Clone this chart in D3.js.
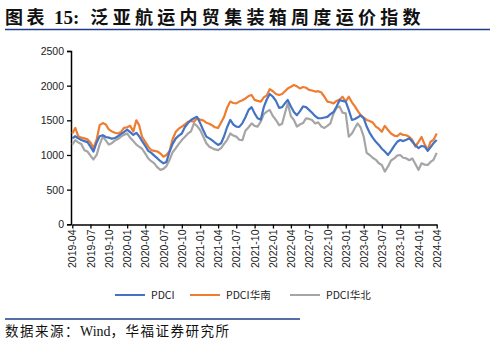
<!DOCTYPE html>
<html><head><meta charset="utf-8">
<script src="https://cdn.jsdelivr.net/npm/d3@7/dist/d3.min.js"></script>
<style>
html,body{margin:0;padding:0;background:#fff;}
svg{display:block;}
</style></head>
<body>
<script>
// ---- data (semi-monthly readings, 2019-04-01 .. 2024-04-01) ----
const seriesNames = ["PDCI", "PDCI华南", "PDCI华北"];
const seriesColors = ["#4472C4", "#ED7D31", "#A5A5A5"];
const pdci = [1240,1270,1240,1215,1200,1185,1120,1050,1180,1270,1285,1260,1250,1235,1245,1270,1300,1330,1365,1330,
1290,1320,1270,1200,1130,1060,1030,990,950,910,880,900,1050,1160,1240,1280,1310,1400,1460,1505,
1530,1550,1460,1360,1265,1240,1215,1180,1145,1170,1270,1400,1505,1440,1410,1405,1460,1545,1650,1690,
1600,1530,1510,1690,1800,1880,1840,1780,1680,1690,1740,1795,1700,1620,1575,1630,1700,1690,1650,1610,
1560,1530,1530,1540,1550,1590,1620,1700,1790,1780,1770,1650,1505,1520,1540,1570,1530,1410,1320,1250,
1190,1145,1090,1050,1000,1060,1130,1190,1215,1200,1220,1240,1190,1140,1100,1130,1120,1060,1110,1170,1215];
const pdciSouth = [1310,1390,1270,1250,1240,1225,1180,1100,1220,1430,1460,1440,1370,1340,1320,1310,1330,1390,1400,1420,
1340,1500,1430,1260,1190,1120,1070,1060,1050,1020,975,1000,1060,1230,1335,1380,1410,1440,1480,1490,
1480,1530,1510,1500,1465,1450,1430,1400,1390,1470,1550,1680,1770,1750,1745,1770,1790,1815,1850,1865,
1795,1780,1770,1830,1860,1950,1920,1880,1865,1880,1915,1960,1985,2010,1990,1960,1980,1970,1940,1930,
1915,1920,1900,1840,1770,1760,1745,1780,1800,1840,1770,1840,1760,1700,1640,1580,1540,1505,1490,1470,
1410,1380,1335,1420,1360,1310,1280,1270,1310,1290,1285,1260,1215,1120,1190,1260,1150,1070,1190,1215,1310];
const pdciNorth = [1150,1215,1180,1160,1070,1050,990,935,1000,1150,1265,1210,1150,1170,1210,1230,1265,1290,1310,1250,
1200,1150,1120,1090,1020,950,910,880,820,785,800,840,930,1040,1100,1160,1215,1260,1310,1340,
1455,1420,1360,1270,1170,1120,1100,1080,1070,1100,1160,1215,1310,1280,1265,1220,1215,1350,1400,1455,
1420,1410,1480,1590,1625,1650,1560,1505,1430,1450,1590,1745,1560,1505,1410,1440,1460,1530,1520,1505,
1455,1470,1410,1390,1420,1455,1600,1680,1700,1610,1600,1265,1310,1390,1455,1400,1265,1030,1000,960,
930,880,855,760,835,920,950,990,1000,960,950,925,950,870,785,880,860,855,900,930,1030];
const yTicks = [0,500,1000,1500,2000,2500];
const xTickLabels = ["2019-04","2019-07","2019-10","2020-01","2020-04","2020-07","2020-10","2021-01","2021-04",
"2021-07","2021-10","2022-01","2022-04","2022-07","2022-10","2023-01","2023-04","2023-07","2023-10","2024-01","2024-04"];

// dates of the semi-monthly samples (1st and 16th of each month)
const dates = d3.range(pdci.length).map(k => new Date(2019, 3 + Math.floor(k / 2), k % 2 ? 16 : 1));
const parse = d3.timeParse("%Y-%m");
const tickDates = xTickLabels.map(parse);

const W = 495, H = 343;
const svg = d3.select("body").append("svg").attr("width", W).attr("height", H);

// title
const title = svg.append("text").attr("x", 5).attr("y", 24)
  .attr("font-size", 18).attr("font-weight", "bold").attr("fill", "#111")
  .attr("font-family", "'Noto Sans CJK SC', sans-serif");
title.append("tspan").attr("letter-spacing", 3.5).text("图表");
title.append("tspan").attr("dx", 6).attr("font-family", "'Liberation Serif', serif").attr("font-size", 19).text("15:");
title.append("tspan").attr("dx", 11).attr("letter-spacing", 4.3).text("泛亚航运内贸集装箱周度运价指数");
svg.append("line").attr("x1", 5).attr("x2", 490).attr("y1", 29.5).attr("y2", 29.5)
  .attr("stroke", "#1F3C88").attr("stroke-width", 1.5);

// scales
const x = d3.scaleTime().domain([tickDates[0], tickDates[tickDates.length - 1]]).range([72.3, 436.7]);
const y = d3.scaleLinear().domain([0, 2500]).range([224.3, 51]);

// axes
const yAxis = svg.append("g").attr("transform", "translate(71,0)")
  .call(d3.axisLeft(y).tickValues(yTicks).tickSize(4).tickPadding(3).tickFormat(d3.format("d")));
yAxis.selectAll("text").attr("font-family", "'Liberation Sans', Arial, sans-serif").attr("font-size", 10.5).attr("fill", "#222");
yAxis.select(".domain").attr("stroke", "#000").attr("stroke-width", 1.5);
yAxis.selectAll(".tick line").attr("stroke", "#000").attr("stroke-width", 1.3);

const xAxis = svg.append("g").attr("transform", "translate(0,224.5)")
  .call(d3.axisBottom(x).tickValues(tickDates).tickSize(4).tickSizeOuter(0)
    .tickFormat((d, i) => xTickLabels[i]));
xAxis.select(".domain").attr("stroke", "#000").attr("stroke-width", 1.5);
xAxis.selectAll(".tick line").attr("stroke", "#000").attr("stroke-width", 1.3);
xAxis.selectAll("text")
  .attr("font-family", "'Liberation Sans', Arial, sans-serif").attr("font-size", 10.5).attr("fill", "#222")
  .attr("transform", "rotate(-90)").attr("text-anchor", "end")
  .attr("x", -5).attr("y", 0).attr("dy", "0.35em");

// lines
const allSeries = [pdci, pdciSouth, pdciNorth];
const line = d3.line().x((d, i) => x(dates[i])).y(d => y(d));
[2, 1, 0].forEach(si => {
  svg.append("path").datum(allSeries[si]).attr("d", line)
    .attr("fill", "none").attr("stroke", seriesColors[si]).attr("stroke-width", 2.2)
    .attr("stroke-linejoin", "round");
});

// legend
const legendX = [115, 190, 290];
seriesNames.forEach((n, i) => {
  const g = svg.append("g").attr("transform", `translate(${legendX[i]},295)`);
  g.append("line").attr("x1", 0).attr("x2", 30).attr("y1", 0).attr("y2", 0)
    .attr("stroke", seriesColors[i]).attr("stroke-width", 2);
  g.append("text").attr("x", 36).attr("y", 0).attr("dy", "0.35em")
    .attr("font-family", "'Noto Sans CJK SC', sans-serif").attr("font-size", 10.5).attr("fill", "#222")
    .text(n);
});

// footer
svg.append("line").attr("x1", 5).attr("x2", 300).attr("y1", 319).attr("y2", 319)
  .attr("stroke", "#1F3C88").attr("stroke-width", 1.3);
const foot = svg.append("text").attr("x", 5).attr("y", 336).attr("font-size", 13.5).attr("fill", "#111")
  .attr("font-family", "'Noto Sans CJK SC', sans-serif");
foot.append("tspan").attr("letter-spacing", 1.5).text("数据来源：");
foot.append("tspan").attr("font-family", "'Liberation Serif', serif").attr("font-size", 14).text("Wind");
foot.append("tspan").attr("letter-spacing", 1.5).text("，华福证券研究所");
</script>
</body></html>
